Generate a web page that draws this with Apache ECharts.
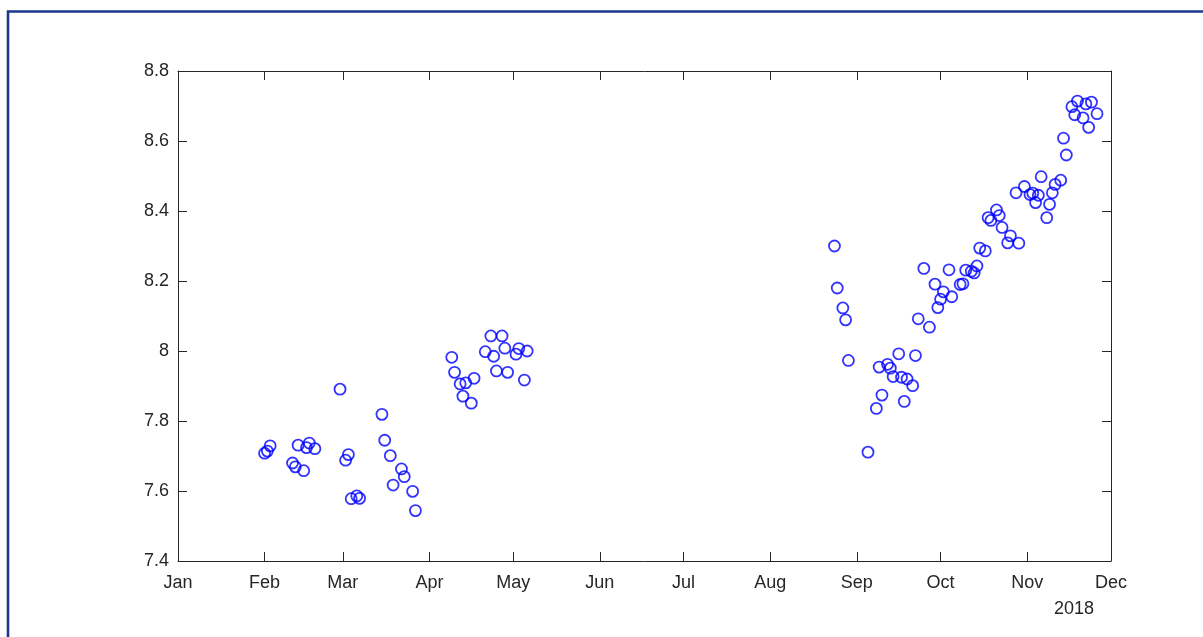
<!DOCTYPE html>
<html>
<head>
<meta charset="utf-8">
<script src="https://cdn.jsdelivr.net/npm/echarts@6/dist/echarts.min.js"></script>
<style>
  html, body { margin: 0; padding: 0; background: #ffffff; }
  #chart { width: 1203px; height: 637px; }
</style>
</head>
<body>
<div id="chart"></div>
<script>
// Observation dates and measured values
const obsDates = [
  '2018-02-01','2018-02-02','2018-02-03','2018-02-11','2018-02-12','2018-02-13','2018-02-15','2018-02-16','2018-02-17','2018-02-19',
  '2018-02-28','2018-03-02','2018-03-03','2018-03-04','2018-03-06','2018-03-07','2018-03-15','2018-03-16','2018-03-18','2018-03-19',
  '2018-03-22','2018-03-23','2018-03-26','2018-03-27',
  '2018-04-09','2018-04-10','2018-04-12','2018-04-13','2018-04-14','2018-04-16','2018-04-17','2018-04-21','2018-04-23','2018-04-24',
  '2018-04-25','2018-04-27','2018-04-28','2018-04-29','2018-05-02','2018-05-03','2018-05-05','2018-05-06',
  '2018-08-24','2018-08-25','2018-08-27','2018-08-28','2018-08-29','2018-09-05','2018-09-08','2018-09-09','2018-09-10','2018-09-12',
  '2018-09-13','2018-09-14','2018-09-16','2018-09-17','2018-09-18','2018-09-19','2018-09-21','2018-09-22','2018-09-23','2018-09-25',
  '2018-09-27','2018-09-29','2018-09-30','2018-10-01','2018-10-02','2018-10-04','2018-10-05','2018-10-08','2018-10-09','2018-10-10',
  '2018-10-12','2018-10-13','2018-10-14','2018-10-15','2018-10-17','2018-10-18','2018-10-19','2018-10-21','2018-10-22','2018-10-23',
  '2018-10-25','2018-10-26','2018-10-28','2018-10-29','2018-10-31','2018-11-02','2018-11-03','2018-11-04','2018-11-05','2018-11-06',
  '2018-11-08','2018-11-09','2018-11-10','2018-11-11','2018-11-13','2018-11-14','2018-11-15','2018-11-17','2018-11-18','2018-11-19',
  '2018-11-21','2018-11-22','2018-11-23','2018-11-24','2018-11-26'
];
const obsValues = [
  7.708, 7.714, 7.729, 7.680, 7.669, 7.731, 7.658, 7.724, 7.737, 7.721,
  7.891, 7.688, 7.704, 7.578, 7.586, 7.579, 7.819, 7.745, 7.701, 7.617,
  7.663, 7.641, 7.599, 7.544,
  7.982, 7.939, 7.906, 7.871, 7.909, 7.851, 7.922, 7.998, 8.043, 7.985,
  7.943, 8.043, 8.008, 7.939, 7.991, 8.007, 7.917, 8.000,
  8.300, 8.180, 8.123, 8.089, 7.973, 7.711, 7.836, 7.954, 7.874, 7.962,
  7.951, 7.927, 7.992, 7.925, 7.856, 7.920, 7.901, 7.987, 8.092, 8.236,
  8.068, 8.191, 8.124, 8.148, 8.169, 8.232, 8.155, 8.190, 8.192, 8.231,
  8.228, 8.223, 8.243, 8.294, 8.286, 8.381, 8.373, 8.403, 8.387, 8.353,
  8.309, 8.329, 8.452, 8.308, 8.470, 8.447, 8.451, 8.424, 8.445, 8.498,
  8.381, 8.419, 8.452, 8.476, 8.488, 8.608, 8.560, 8.698, 8.675, 8.714,
  8.666, 8.706, 8.639, 8.711, 8.678
];

// Month ticks along the date axis
const monthTickDates = [
  '2018-01-01','2018-02-01','2018-03-01','2018-04-01','2018-05-01','2018-06-01',
  '2018-07-01','2018-08-01','2018-09-01','2018-10-01','2018-11-01','2018-12-01'
];
const monthTickLabels = ['Jan','Feb','Mar','Apr','May','Jun','Jul','Aug','Sep','Oct','Nov','Dec'];
const yearLabel = '2018';

// Value axis range
const yMin = 7.4;
const yMax = 8.8;
const yStep = 0.2;

function toTime(s) {
  const p = s.split('-').map(Number);
  return Date.UTC(p[0], p[1] - 1, p[2]);
}

const tickTimes = monthTickDates.map(toTime);
const labelByTime = {};
tickTimes.forEach((t, i) => { labelByTime[t] = monthTickLabels[i]; });

const points = obsDates.map((d, i) => [toTime(d), obsValues[i]]);

const INK = '#262626';
const FONT = 'Liberation Sans, Arial, Helvetica, sans-serif';

const chart = echarts.init(document.getElementById('chart'), null, { renderer: 'canvas' });

const xCommon = {
  type: 'value',
  min: tickTimes[0],
  max: tickTimes[tickTimes.length - 1],
  splitLine: { show: false },
  axisLine: { show: true, onZero: false, lineStyle: { color: INK, width: 1 } },
  axisTick: { show: true, inside: true, length: 9, customValues: tickTimes, lineStyle: { color: INK, width: 1 } }
};

const yCommon = {
  type: 'value',
  min: yMin,
  max: yMax,
  interval: yStep,
  splitLine: { show: false },
  axisLine: { show: true, onZero: false, lineStyle: { color: INK, width: 1 } },
  axisTick: { show: true, inside: true, length: 9, lineStyle: { color: INK, width: 1 } }
};

chart.setOption({
  animation: false,
  backgroundColor: '#ffffff',
  grid: { left: 178, right: 92, top: 71, bottom: 76, containLabel: false },
  xAxis: [
    Object.assign({}, xCommon, {
      position: 'bottom',
      axisLabel: {
        show: true,
        customValues: tickTimes,
        formatter: v => labelByTime[v] || '',
        margin: 13,
        fontSize: 18,
        fontFamily: FONT,
        color: INK
      }
    }),
    Object.assign({}, xCommon, {
      position: 'top',
      axisLabel: { show: false }
    })
  ],
  yAxis: [
    Object.assign({}, yCommon, {
      position: 'left',
      axisLabel: {
        show: true,
        margin: 9,
        fontSize: 18,
        fontFamily: FONT,
        color: INK,
        formatter: v => String(Math.round(v * 10) / 10)
      }
    }),
    Object.assign({}, yCommon, {
      position: 'right',
      axisLabel: { show: false }
    })
  ],
  series: [{
    type: 'scatter',
    xAxisIndex: 0,
    yAxisIndex: 0,
    symbol: 'circle',
    symbolSize: 11,
    itemStyle: { color: 'rgba(0,0,0,0)', borderColor: '#0000ff', borderWidth: 1.8 },
    emphasis: { disabled: true },
    data: points
  }],
  graphic: [
    {
      type: 'rect',
      silent: true,
      shape: { x: 8, y: 11.5, width: 1400, height: 900 },
      style: { fill: 'none', stroke: '#1a398d', lineWidth: 2.6 }
    },
    {
      type: 'text',
      silent: true,
      style: {
        x: 1074, y: 609,
        text: yearLabel,
        align: 'center',
        verticalAlign: 'middle',
        fontSize: 18,
        fontFamily: FONT,
        fill: INK
      }
    }
  ]
});
</script>
</body>
</html>
